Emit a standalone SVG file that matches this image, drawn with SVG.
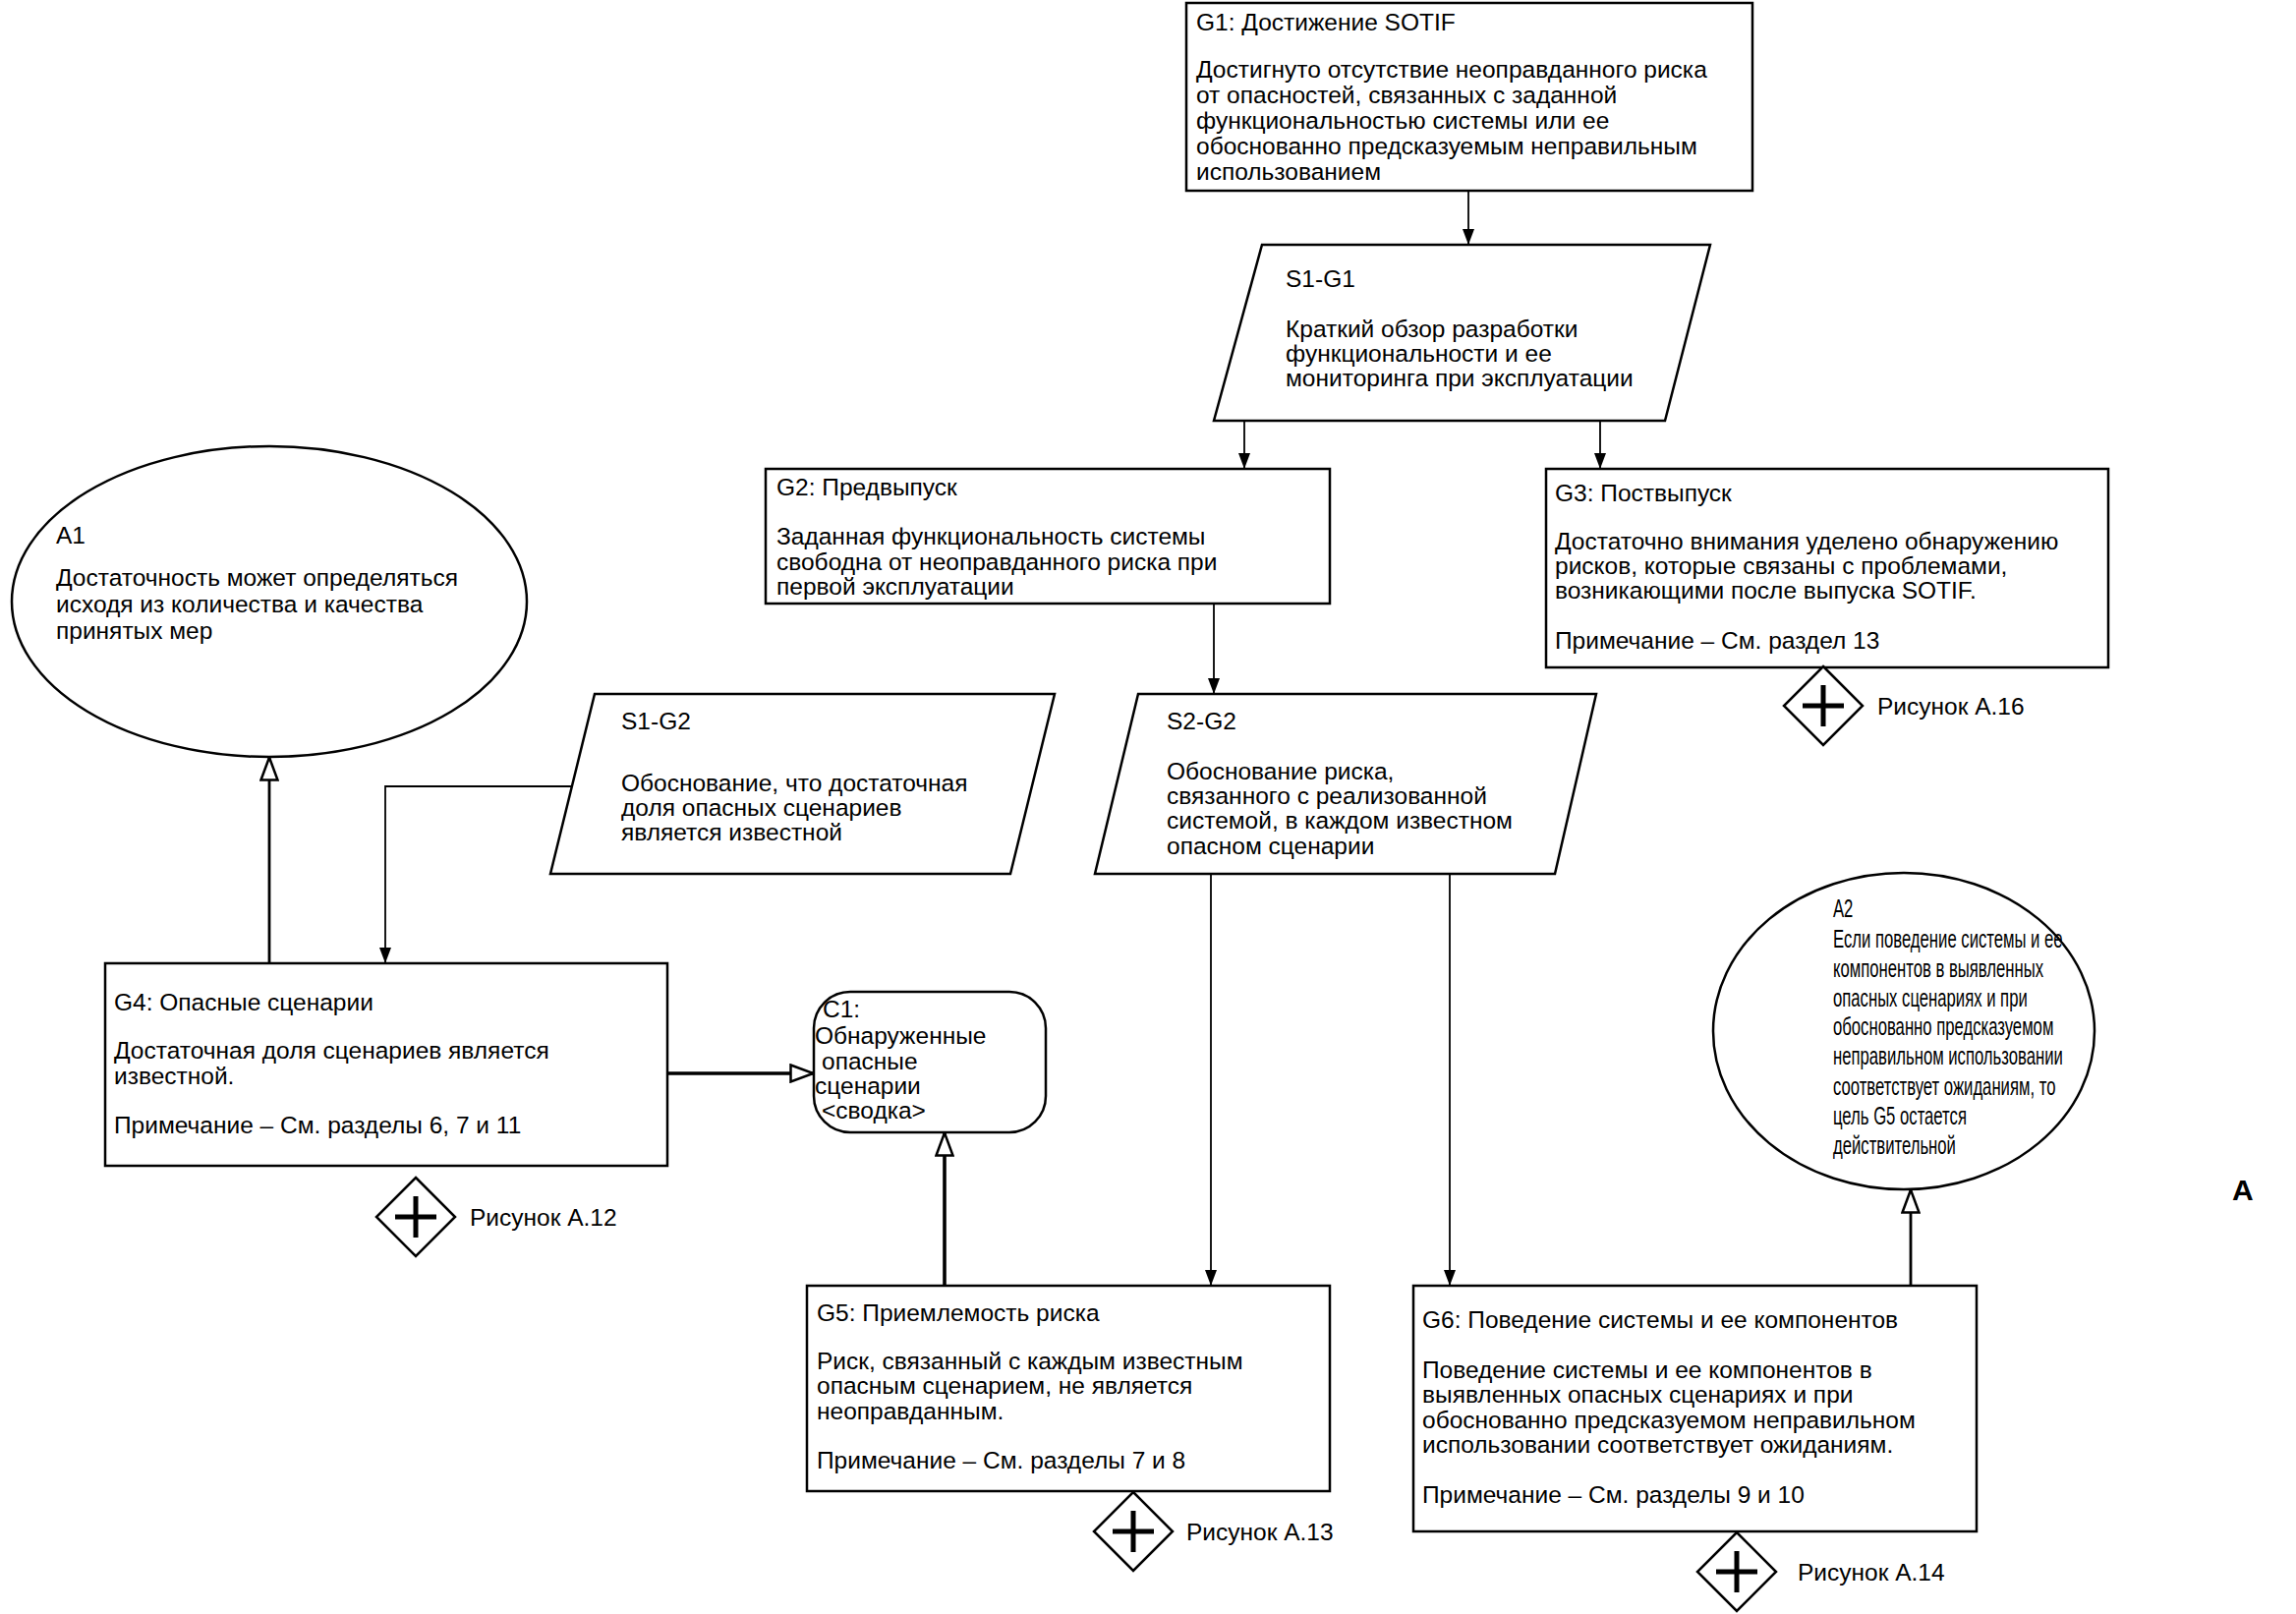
<svg xmlns="http://www.w3.org/2000/svg" width="2336" height="1642" viewBox="0 0 2336 1642">
<style>
text{font-family:"Liberation Sans",Arial,sans-serif;font-size:24.5px;fill:#000}
.box{fill:#fff;stroke:#000;stroke-width:2.5}
.ln{fill:none;stroke:#000;stroke-width:1.8}
.hl{fill:none;stroke:#000;stroke-width:2.8}
.thk{fill:none;stroke:#000;stroke-width:3.6}
.big{font-size:30px;font-weight:bold}
.a2 text{font-size:26.5px}
</style>
<defs>
<marker id="af" viewBox="0 0 16 12" refX="16" refY="6" markerWidth="16" markerHeight="12" markerUnits="userSpaceOnUse" orient="auto"><path d="M0,0 L16,6 L0,12 z" fill="#000"/></marker>
<marker id="ah" viewBox="0 0 26 20" refX="25" refY="10" markerWidth="26" markerHeight="20" markerUnits="userSpaceOnUse" orient="auto"><path d="M1.5,1.5 L24.5,10 L1.5,18.5 z" fill="#fff" stroke="#000" stroke-width="2.5"/></marker>
<g id="dia"><polygon points="0,-40 40,0 0,40 -40,0" fill="#fff" stroke="#000" stroke-width="2.5"/><path d="M-21,0 H21 M0,-21 V21" stroke="#000" stroke-width="5"/></g>
</defs>
<rect width="2336" height="1642" fill="#fff"/>

<g id="connectors">
<path class="ln" d="M1494,194 V249" marker-end="url(#af)"/>
<path class="ln" d="M1266,428 V477" marker-end="url(#af)"/>
<path class="ln" d="M1628,428 V477" marker-end="url(#af)"/>
<path class="ln" d="M1235,614 V706" marker-end="url(#af)"/>
<path class="ln" d="M582,800 H392 V980" marker-end="url(#af)"/>
<path class="ln" d="M1232,889 V1308" marker-end="url(#af)"/>
<path class="ln" d="M1475,889 V1308" marker-end="url(#af)"/>
<path class="hl" d="M274,980 V770" marker-end="url(#ah)"/>
<path class="thk" d="M679,1092 H828" marker-end="url(#ah)"/>
<path class="thk" d="M961,1308 V1152" marker-end="url(#ah)"/>
<path class="hl" d="M1944,1308 V1210" marker-end="url(#ah)"/>
</g>

<g id="G1">
<rect class="box" x="1207" y="3" width="576" height="191"/>
<text x="1217" y="31">G1: Достижение SOTIF</text>
<text x="1217" y="79">Достигнуто отсутствие неоправданного риска</text>
<text x="1217" y="105">от опасностей, связанных с заданной</text>
<text x="1217" y="131">функциональностью системы или ее</text>
<text x="1217" y="157">обоснованно предсказуемым неправильным</text>
<text x="1217" y="183">использованием</text>
</g>

<g id="S1-G1">
<polygon class="box" points="1284,249 1740,249 1694,428 1235,428"/>
<text x="1308" y="292">S1-G1</text>
<text x="1308" y="343">Краткий обзор разработки</text>
<text x="1308" y="368">функциональности и ее</text>
<text x="1308" y="393">мониторинга при эксплуатации</text>
</g>

<g id="G2">
<rect class="box" x="779" y="477" width="574" height="137"/>
<text x="790" y="504">G2: Предвыпуск</text>
<text x="790" y="554">Заданная функциональность системы</text>
<text x="790" y="580">свободна от неоправданного риска при</text>
<text x="790" y="605">первой эксплуатации</text>
</g>

<g id="G3">
<rect class="box" x="1573" y="477" width="572" height="202"/>
<text x="1582" y="510">G3: Поствыпуск</text>
<text x="1582" y="559">Достаточно внимания уделено обнаружению</text>
<text x="1582" y="584">рисков, которые связаны с проблемами,</text>
<text x="1582" y="609">возникающими после выпуска SOTIF.</text>
<text x="1582" y="660">Примечание –  См. раздел 13</text>
</g>

<g id="D-G3">
<use href="#dia" x="1855" y="718"/>
<text x="1910" y="727">Рисунок А.16</text>
</g>

<g id="S2-G2">
<polygon class="box" points="1158,706 1624,706 1582,889 1114,889"/>
<text x="1187" y="742">S2-G2</text>
<text x="1187" y="793">Обоснование риска,</text>
<text x="1187" y="818">связанного с реализованной</text>
<text x="1187" y="843">системой, в каждом известном</text>
<text x="1187" y="869">опасном сценарии</text>
</g>

<g id="S1-G2">
<polygon class="box" points="605,706 1073,706 1028,889 560,889"/>
<text x="632" y="742">S1-G2</text>
<text x="632" y="805">Обоснование, что достаточная</text>
<text x="632" y="830">доля опасных сценариев</text>
<text x="632" y="855">является известной</text>
</g>

<g id="A1">
<ellipse class="box" cx="274" cy="612" rx="262" ry="158"/>
<text x="57" y="553">A1</text>
<text x="57" y="596">Достаточность может определяться</text>
<text x="57" y="623">исходя из количества и качества</text>
<text x="57" y="650">принятых мер</text>
</g>

<g id="G4">
<rect class="box" x="107" y="980" width="572" height="206"/>
<text x="116" y="1028">G4: Опасные сценарии</text>
<text x="116" y="1077">Достаточная доля сценариев является</text>
<text x="116" y="1103">известной.</text>
<text x="116" y="1153">Примечание –  См. разделы 6, 7 и 11</text>
</g>

<g id="D-G4">
<use href="#dia" x="423" y="1238"/>
<text x="478" y="1247">Рисунок А.12</text>
</g>

<g id="C1">
<rect class="box" x="828" y="1009" width="236" height="143" rx="37" ry="37"/>
<text x="837" y="1035">C1:</text>
<text x="829" y="1062">Обнаруженные</text>
<text x="836" y="1088">опасные</text>
<text x="829" y="1113">сценарии</text>
<text x="836" y="1138">&lt;сводка&gt;</text>
</g>

<g id="G5">
<rect class="box" x="821" y="1308" width="532" height="209"/>
<text x="831" y="1344">G5: Приемлемость риска</text>
<text x="831" y="1393">Риск, связанный с каждым известным</text>
<text x="831" y="1418">опасным сценарием, не является</text>
<text x="831" y="1444">неоправданным.</text>
<text x="831" y="1494">Примечание –  См. разделы 7 и 8</text>
</g>

<g id="D-G5">
<use href="#dia" x="1153" y="1558"/>
<text x="1207" y="1567">Рисунок А.13</text>
</g>

<g id="G6">
<rect class="box" x="1438" y="1308" width="573" height="250"/>
<text x="1447" y="1351">G6: Поведение системы и ее компонентов</text>
<text x="1447" y="1402">Поведение системы и ее компонентов в</text>
<text x="1447" y="1427">выявленных опасных сценариях и при</text>
<text x="1447" y="1453">обоснованно предсказуемом неправильном</text>
<text x="1447" y="1478">использовании соответствует ожиданиям.</text>
<text x="1447" y="1529">Примечание –  См. разделы 9 и 10</text>
</g>

<g id="D-G6">
<use href="#dia" x="1767" y="1599"/>
<text x="1829" y="1608">Рисунок А.14</text>
</g>

<g id="A2">
<ellipse class="box" cx="1937" cy="1049" rx="194" ry="161"/>
<g class="a2" transform="translate(1865,0) scale(0.63,1)">
<text x="0" y="933">A2</text>
<text x="0" y="964">Если поведение системы и ее</text>
<text x="0" y="994">компонентов в выявленных</text>
<text x="0" y="1024">опасных сценариях и при</text>
<text x="0" y="1053">обоснованно предсказуемом</text>
<text x="0" y="1083">неправильном использовании</text>
<text x="0" y="1114">соответствует ожиданиям, то</text>
<text x="0" y="1144">цель G5 остается</text>
<text x="0" y="1174">действительной</text>
</g>
</g>

<g id="label-A">
<text class="big" x="2271" y="1221">А</text>
</g>
</svg>
